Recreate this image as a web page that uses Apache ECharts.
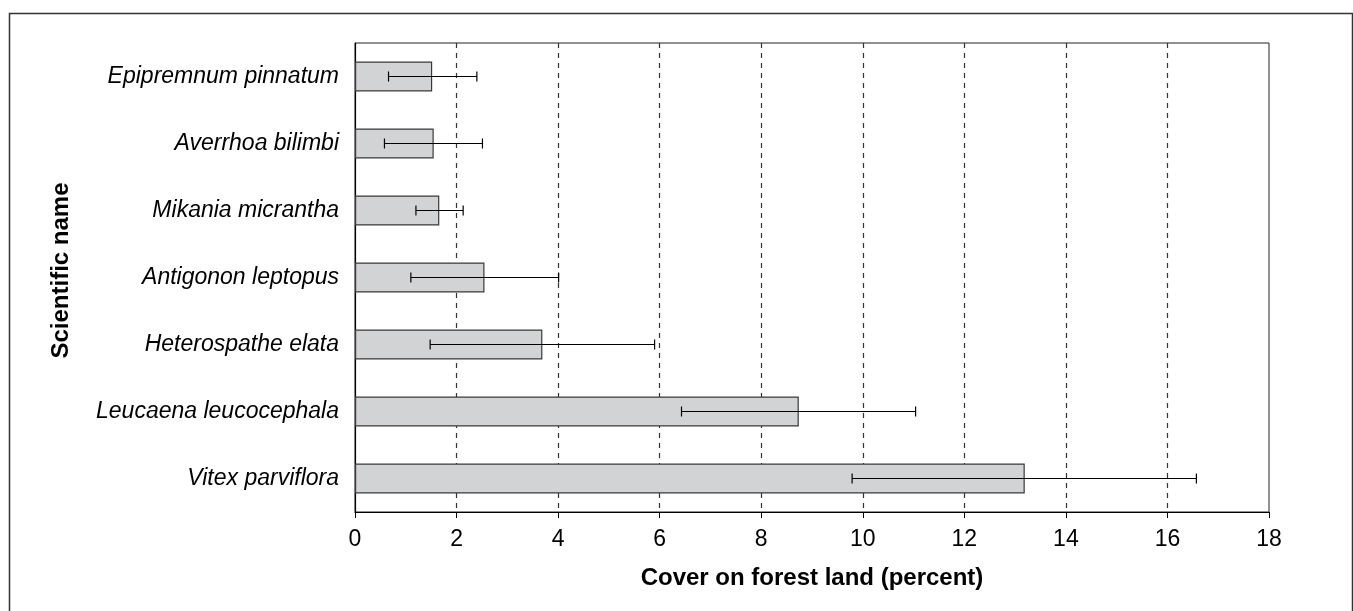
<!DOCTYPE html>
<html>
<head>
<meta charset="utf-8">
<script src="https://cdn.jsdelivr.net/npm/echarts@6/dist/echarts.min.js"></script>
<style>html,body{margin:0;padding:0;background:#fff;}#c{width:1353px;height:611px;}</style>
</head>
<body>
<div id="c"></div>
<script>
var categories = ['Epipremnum pinnatum','Averrhoa bilimbi','Mikania micrantha','Antigonon leptopus','Heterospathe elata','Leucaena leucocephala','Vitex parviflora'];
var coverValues = [1.52, 1.55, 1.66, 2.55, 3.69, 8.74, 13.19];
var errorLow = [0.66, 0.58, 1.20, 1.10, 1.48, 6.43, 9.79];
var errorHigh = [2.40, 2.51, 2.13, 4.01, 5.90, 11.04, 16.57];
var xTicks = [0, 2, 4, 6, 8, 10, 12, 14, 16, 18];

var errData = categories.map(function (c, i) { return [i, errorLow[i], errorHigh[i]]; });
var fontFam = '"Liberation Sans", Arial, sans-serif';

var chart = echarts.init(document.getElementById('c'), null, {renderer: 'canvas'});
chart.setOption({
  animation: false,
  backgroundColor: '#fff',
  graphic: [{
    type: 'rect', left: 7, top: 11, z: -1,
    shape: {x: 0, y: 0, width: 1343, height: 640},
    style: {fill: 'none', stroke: '#333', lineWidth: 1.5}
  }],
  grid: {left: 355, right: 84, top: 43, bottom: 99, show: true, borderColor: '#222', borderWidth: 1, backgroundColor: 'transparent'},
  xAxis: {
    type: 'value', min: xTicks[0], max: xTicks[xTicks.length - 1], interval: 2,
    name: 'Cover on forest land (percent)', nameLocation: 'middle', nameGap: 54,
    nameTextStyle: {fontFamily: fontFam, fontSize: 24, fontWeight: 'bold', color: '#000'},
    axisLine: {show: true, lineStyle: {color: '#000', width: 1.2}},
    axisTick: {show: true, length: 6, lineStyle: {color: '#000'}},
    axisLabel: {fontFamily: fontFam, fontSize: 23, color: '#000', margin: 16},
    splitLine: {show: true, showMinLine: false, showMaxLine: false, lineStyle: {color: '#333', type: [5, 5], width: 1.2}}
  },
  yAxis: {
    type: 'category', data: categories, inverse: true,
    name: 'Scientific name', nameLocation: 'middle', nameGap: 282, nameRotate: 90,
    nameTextStyle: {fontFamily: fontFam, fontSize: 24, fontWeight: 'bold', color: '#000', padding: [0, 0, 0, 14]},
    axisLine: {show: true, lineStyle: {color: '#000', width: 1.2}},
    axisTick: {show: false},
    axisLabel: {fontFamily: fontFam, fontSize: 23, fontStyle: 'italic', color: '#000', margin: 16}
  },
  series: [{
    type: 'bar', data: coverValues, barWidth: 30,
    itemStyle: {color: '#d2d3d5', borderColor: '#3a3a3a', borderWidth: 1.2},
    z: 2
  }, {
    type: 'custom', data: errData, z: 3,
    renderItem: function (params, api) {
      var idx = api.value(0);
      var lo = api.coord([api.value(1), idx]);
      var hi = api.coord([api.value(2), idx]);
      var h = 5;
      var st = {stroke: '#000', lineWidth: 1.2};
      return {type: 'group', children: [
        {type: 'line', shape: {x1: lo[0], y1: lo[1], x2: hi[0], y2: hi[1]}, style: st},
        {type: 'line', shape: {x1: lo[0], y1: lo[1] - h, x2: lo[0], y2: lo[1] + h}, style: st},
        {type: 'line', shape: {x1: hi[0], y1: hi[1] - h, x2: hi[0], y2: hi[1] + h}, style: st}
      ]};
    },
    encode: {x: [1, 2], y: 0}
  }]
});
</script>
</body>
</html>
